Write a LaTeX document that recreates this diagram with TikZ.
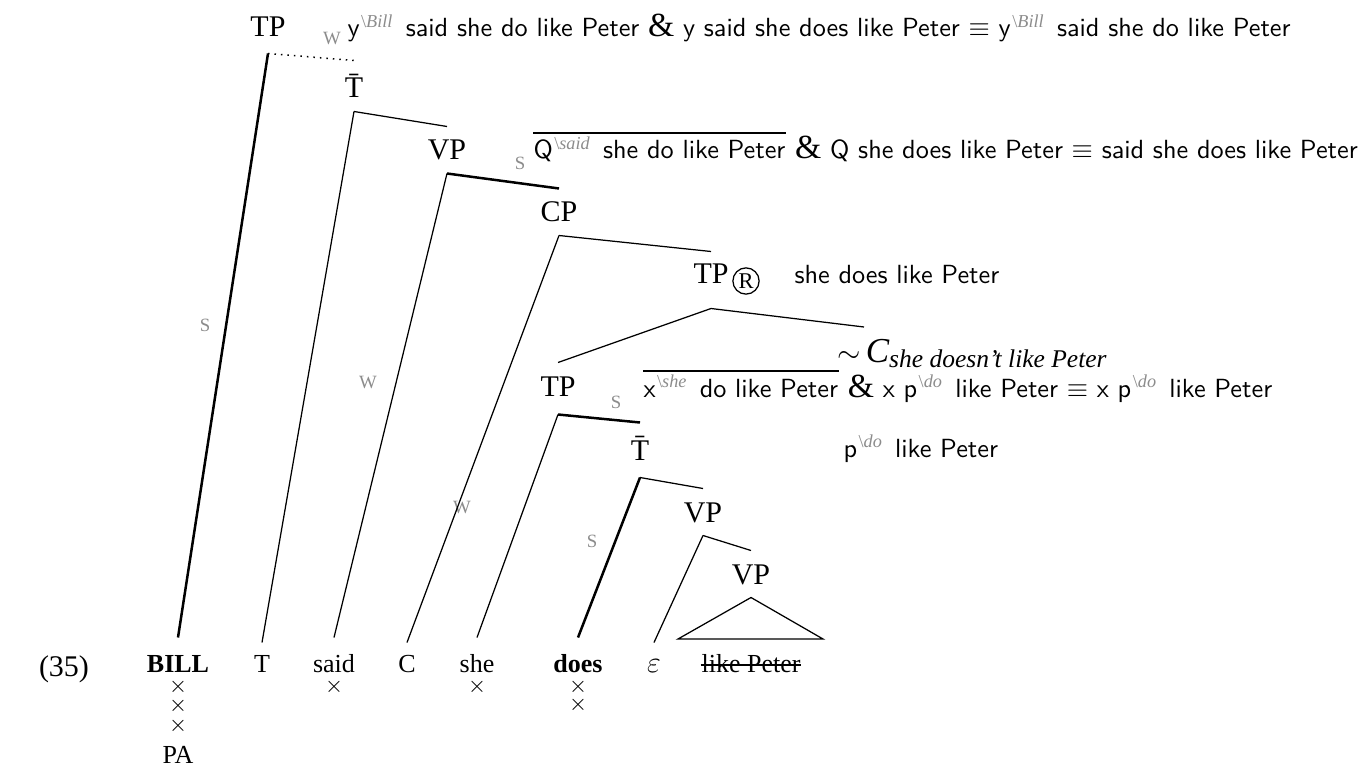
\documentclass[tikz,border=0pt]{standalone}
\usepackage{fontspec}
\setmainfont{Liberation Serif}
\usetikzlibrary{calc}
\definecolor{supgray}{gray}{0.55}
\definecolor{swgray}{gray}{0.55}
\newcommand\gsup[1]{\kern0.6pt\raisebox{3.8pt}{\rmfamily\fontsize{7.3}{7.3}\selectfont\color{supgray}\textbackslash\textit{#1}}\hspace{5.3pt}}
\newcommand\amp{{\rmfamily\fontsize{13.5}{13.5}\selectfont\&}}
\newcommand\eqv{$\equiv$}
\begin{document}
\begin{tikzpicture}[x=0.4pt,y=-0.4pt,
 tl/.style={anchor=base, font=\fontsize{12}{12}\selectfont, text height=9pt, text depth=1pt, inner xsep=1pt, inner ysep=4.2pt},
 lf/.style={anchor=base, font=\fontsize{10.4}{10.4}\selectfont, text height=8pt, text depth=0pt, inner xsep=1pt, inner ysep=0pt},
 crossmark/.style={anchor=center, font=\fontsize{9}{9}\selectfont, inner sep=0pt},
 ann/.style={anchor=base west, font=\sffamily\fontsize{10.5}{12}\selectfont, inner sep=0pt},
 gl/.style={anchor=center, font=\fontsize{7.5}{7.5}\selectfont, text=swgray, inner sep=0pt},
 br/.style={line width=0.5pt},
 brb/.style={line width=1.0pt},
 brd/.style={line width=0.6pt, dotted}]
\useasboundingbox (0,0) rectangle (1365,765);

% tree labels
\node[tl] (TP1) at (268,37) {TP};
\node[tl] (Tb1) at (354,98) {\={T}};
\node[tl] (VP1) at (447,160) {VP};
\node[tl] (CP) at (559,222) {CP};
\node[tl] (TPR) at (711,283) {TP};
\node[circle, draw, line width=0.5pt, inner sep=0pt, minimum size=10.5pt, font=\fontsize{9}{9}\selectfont] (Rc) at (746,281) {R};
\node[tl] (TP2) at (558,396) {TP};
\node[tl] (Tb2) at (640,460) {\={T}};
\node[tl] (VP2) at (703,522) {VP};
\node[tl] (VP3) at (751,584) {VP};

% leaves
\node[anchor=base, font=\fontsize{12}{12}\selectfont, inner sep=0pt] (ex) at (64,676) {(35)};
\node[lf] (BILL) at (178,672) {\textbf{BILL}};
\node[lf] (T) at (262,672) {T};
\node[lf] (said) at (334,672) {said};
\node[lf] (C) at (407,672) {C};
\node[lf] (she) at (477,672) {she};
\node[lf] (does) at (578,672) {\textbf{does}};
\node[lf, font=\fontsize{12}{12}\selectfont] (eps) at (654,672) {$\varepsilon$};
\node[lf] (lp) at (751,672) {like Peter};
\node[lf] (PA) at (178,763) {PA};
\node[crossmark] (x1) at (178,687) {$\times$};
\node[crossmark] (x2) at (178,706) {$\times$};
\node[crossmark] (x3) at (178,726) {$\times$};
\node[crossmark] (x4) at (334,687) {$\times$};
\node[crossmark] (x5) at (477,687) {$\times$};
\node[crossmark] (x6) at (578,687) {$\times$};
\node[crossmark] (x7) at (578,705) {$\times$};
\draw[line width=0.5pt] ($(lp.base west)+(2,-7)$) -- ($(lp.base east)+(-2,-7)$);

% annotations
\node[gl] (g1) at (332,39) {W};
\node[ann] (L1) at (347,37) {y\gsup{Bill}said she do like Peter \amp{} y said she does like Peter \eqv{} y\gsup{Bill}said she do like Peter};
\node[gl] (g2) at (520,163) {S};
\node[ann] (L2a) at (533,159) {Q\gsup{said}she do like Peter};
\node[ann] (L2b) at (L2a.base east) {\ \amp{} Q she does like Peter \eqv{} said she does like Peter};
\draw[br] ($(L2a.base west)+(0,-26)$) -- ($(L2a.base east)+(0,-26)$);
\node[ann] (L3) at (794,283) {she does like Peter};
\node[anchor=base west, inner sep=0pt, font=\fontsize{12}{12}\selectfont] (L4) at (837,362) {$\sim$\,{\fontsize{14}{14}\selectfont\itshape C}\raisebox{-2pt}{\fontsize{10.2}{10.2}\selectfont\itshape she doesn't like Peter}};
\node[gl] (g3) at (616,402) {S};
\node[ann] (L5a) at (643,397) {x\gsup{she}do like Peter};
\node[ann] (L5b) at (L5a.base east) {\ \amp{} x p\gsup{do}like Peter \eqv{} x p\gsup{do}like Peter};
\draw[br] ($(L5a.base west)+(0,-26)$) -- ($(L5a.base east)+(0,-26)$);
\node[ann] (L6) at (843,457) {p\gsup{do}like Peter};

% edge strength labels
\node[gl] (g4) at (205,325) {S};
\node[gl] (g5) at (368,383) {W};
\node[gl] (g6) at (462,508) {W};
\node[gl] (g7) at (592,541) {S};

% branches
\draw[brb] ($(TP1.south)+(0,3)$) -- ($(BILL.north)+(0,-14)$);
\draw[brd] ($(TP1.south)+(0,3)$) -- ($(Tb1.north)+(0,-4)$);
\draw[br] (Tb1.south) -- ($(T.north)+(0,-9)$);
\draw[br] (Tb1.south) -- (VP1.north);
\draw[br] (VP1.south) -- ($(said.north)+(0,-14)$);
\draw[brb] (VP1.south) -- (CP.north);
\draw[br] (CP.south) -- ($(C.north)+(0,-9)$);
\draw[br] (CP.south) -- ($(TPR.north)+(0,2)$);
\coordinate (Cend) at (864,327);
\draw[br] ($(TPR.south)+(0,12)$) -- (TP2.north);
\draw[br] ($(TPR.south)+(0,12)$) -- (Cend);
\draw[br] ($(TP2.south)+(0,5)$) -- ($(she.north)+(0,-14)$);
\draw[brb] ($(TP2.south)+(0,5)$) -- ($(Tb2.north)+(0,-4)$);
\draw[brb] ($(Tb2.south)+(0,4)$) -- ($(does.north)+(0,-14)$);
\draw[br] ($(Tb2.south)+(0,4)$) -- (VP2.north);
\draw[br] (VP2.south) -- ($(eps.north)+(0,-9)$);
\draw[br] (VP2.south) -- (VP3.north);
\coordinate (triL) at (678,639);
\coordinate (triR) at (823,639);
\draw[br] (VP3.south) -- (triL) -- (triR) -- cycle;
\end{tikzpicture}
\end{document}
